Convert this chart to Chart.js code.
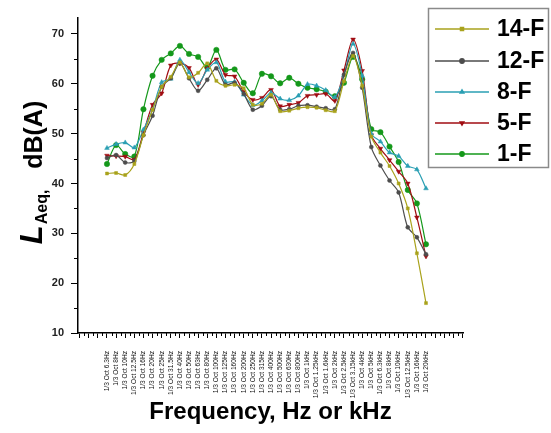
<!DOCTYPE html>
<html><head><meta charset="utf-8">
<script src="https://cdn.jsdelivr.net/npm/chart.js@4.4.0/dist/chart.umd.min.js"></script>
<style>html,body{margin:0;padding:0;background:#fff;}canvas{display:block;}</style>
</head><body>
<canvas id="c" width="551" height="433"></canvas>
<script>
const categories = ['1/3 Oct 6.3Hz','1/3 Oct 8Hz','1/3 Oct 10Hz','1/3 Oct 12.5Hz','1/3 Oct 16Hz','1/3 Oct 20Hz','1/3 Oct 25Hz','1/3 Oct 31.5Hz','1/3 Oct 40Hz','1/3 Oct 50Hz','1/3 Oct 63Hz','1/3 Oct 80Hz','1/3 Oct 100Hz','1/3 Oct 125Hz','1/3 Oct 160Hz','1/3 Oct 200Hz','1/3 Oct 250Hz','1/3 Oct 315Hz','1/3 Oct 400Hz','1/3 Oct 500Hz','1/3 Oct 630Hz','1/3 Oct 800Hz','1/3 Oct 1kHz','1/3 Oct 1.25kHz','1/3 Oct 1.6kHz','1/3 Oct 2kHz','1/3 Oct 2.5kHz','1/3 Oct 3.15kHz','1/3 Oct 4kHz','1/3 Oct 5kHz','1/3 Oct 6.3kHz','1/3 Oct 8kHz','1/3 Oct 10kHz','1/3 Oct 12.5kHz','1/3 Oct 16kHz','1/3 Oct 20kHz'];

const series14F = [42.0,42.1,41.7,43.9,49.7,54.8,59.4,61.4,64.3,61.3,62.2,64.1,60.6,59.6,59.8,59.1,55.8,56.0,57.8,54.5,54.6,55.1,55.3,55.2,54.7,54.5,60.5,65.6,59.6,49.4,46.2,43.5,40.0,35.0,26.0,16.0];
const series12F = [45.1,45.7,44.2,44.5,49.7,53.6,59.4,61.1,64.1,61.1,58.6,60.8,63.1,59.8,60.2,58.0,54.8,55.6,57.5,54.8,54.9,55.6,55.7,55.4,55.1,54.9,61.8,66.2,59.2,47.3,43.6,40.6,38.2,31.2,29.2,25.8];
const series8F  = [47.1,47.9,48.2,47.2,50.8,54.8,60.3,61.0,64.8,62.3,60.1,62.8,64.3,60.4,60.4,57.8,55.7,56.6,58.2,57.0,56.7,57.6,59.9,59.6,58.7,57.3,61.7,68.0,61.6,50.0,48.4,46.2,45.5,43.5,42.8,39.0];
const series5F  = [45.6,45.5,45.4,44.8,50.2,55.8,58.1,63.7,64.1,63.2,59.8,63.1,64.9,61.8,61.5,58.4,56.8,57.2,58.8,55.5,55.8,56.2,57.6,57.8,58.0,56.6,62.7,68.9,62.6,49.7,47.0,44.7,42.4,40.0,33.2,25.4];
const series1F  = [43.9,47.7,45.9,45.4,54.9,61.6,64.8,66.1,67.6,66.0,65.4,63.3,66.8,62.8,62.9,60.2,58.1,62.0,61.5,60.1,61.2,60.0,59.2,58.9,58.4,57.5,60.2,65.4,60.9,50.9,50.3,47.4,44.3,38.7,36.0,27.8];

const seriesNames = ['14-F','12-F','8-F','5-F','1-F'];
const yTickValues = [10,20,30,40,50,60,70];
const yMinorValues = [15,25,35,45,55,65];

const seriesList = [series14F, series12F, series8F, series5F, series1F];
const styles = [
  {color:'#a9a21c', pointStyle:'rect', radius:2.1, rotation:0},
  {color:'#4d4d4d', pointStyle:'circle', radius:2.0, rotation:0},
  {color:'#2a9fb3', pointStyle:'triangle', radius:2.7, rotation:0},
  {color:'#a00c12', pointStyle:'triangle', radius:2.7, rotation:180},
  {color:'#14981a', pointStyle:'circle', radius:2.7, rotation:0}
];

const datasets = seriesList.map((vals, k) => ({
  label: seriesNames[k],
  data: vals.map((v, i) => ({x: i, y: v})),
  borderColor: styles[k].color,
  backgroundColor: styles[k].color,
  pointBackgroundColor: styles[k].color,
  pointBorderColor: styles[k].color,
  pointStyle: styles[k].pointStyle,
  pointRadius: styles[k].radius,
  pointRotation: styles[k].rotation,
  pointBorderWidth: 0.5,
  borderWidth: 1.2,
  tension: 0.3,
  fill: false
}));

const extras = {
  id: 'extras',
  afterDraw(chart) {
    const ctx = chart.ctx;
    const xs = chart.scales.x, ys = chart.scales.y;
    const ca = chart.chartArea;
    ctx.save();
    ctx.strokeStyle = '#000';
    ctx.lineWidth = 1;
    for (let v = -2.5; v <= 39; v += 1) {
      const px = Math.round(xs.getPixelForValue(v)) + 0.5;
      ctx.beginPath(); ctx.moveTo(px, ca.bottom); ctx.lineTo(px, ca.bottom + 3); ctx.stroke();
    }
    yMinorValues.forEach(v => {
      const py = Math.round(ys.getPixelForValue(v)) + 0.5;
      ctx.beginPath(); ctx.moveTo(ca.left, py); ctx.lineTo(ca.left - 4, py); ctx.stroke();
    });
    // y title
    ctx.translate(42, 173);
    ctx.rotate(-Math.PI / 2);
    ctx.fillStyle = '#000';
    ctx.textBaseline = 'alphabetic';
    const f1 = 'italic bold 31px Arial, "Liberation Sans", sans-serif';
    const f2 = 'bold 16px Arial, "Liberation Sans", sans-serif';
    const f3 = 'bold 25px Arial, "Liberation Sans", sans-serif';
    const p1 = 'L', p2 = 'Aeq,', p3 = '   dB(A)';
    ctx.font = f1; const w1 = ctx.measureText(p1).width;
    ctx.font = f2; const w2 = ctx.measureText(p2).width;
    ctx.font = f3; const w3 = ctx.measureText(p3).width;
    let x0 = -(w1 + w2 + w3) / 2;
    ctx.font = f1; ctx.fillText(p1, x0, 0); x0 += w1 + 1;
    ctx.font = f2; ctx.fillText(p2, x0, 5); x0 += w2;
    ctx.font = f3; ctx.fillText(p3, x0, 0);
    ctx.restore();

    // legend
    ctx.save();
    ctx.fillStyle = '#fff';
    ctx.fillRect(428, 8, 121, 160);
    ctx.strokeStyle = '#8a8a8a';
    ctx.lineWidth = 1.5;
    ctx.strokeRect(428.5, 8.5, 120, 159);
    const rows = [29, 61, 92, 123, 154];
    chart.data.datasets.forEach((ds, k) => {
      const y = rows[k];
      ctx.strokeStyle = ds.borderColor;
      ctx.lineWidth = 1.4;
      ctx.beginPath(); ctx.moveTo(435, y); ctx.lineTo(489, y); ctx.stroke();
      ctx.fillStyle = ds.borderColor;
      ctx.strokeStyle = ds.borderColor;
      Chart.helpers.drawPoint(ctx, {pointStyle: ds.pointStyle, radius: 2.2, rotation: ds.pointRotation, borderWidth: 0.5}, 462, y);
      ctx.fillStyle = '#000';
      ctx.font = 'bold 23px Arial, "Liberation Sans", sans-serif';
      ctx.textBaseline = 'middle';
      ctx.textAlign = 'left';
      ctx.fillText(ds.label, 497, y + 1);
    });
    ctx.restore();
  }
};

new Chart(document.getElementById('c'), {
  type: 'line',
  data: { datasets },
  options: {
    responsive: false,
    animation: false,
    devicePixelRatio: 1,
    layout: { padding: { top: 18, right: 88, bottom: 0, left: 0 } },
    plugins: { legend: { display: false }, tooltip: { enabled: false } },
    scales: {
      x: {
        type: 'linear',
        min: -3.18, max: 39.06,
        afterFit: s => { s.height = 100; },
        afterBuildTicks: s => { const t = []; for (let v = -3; v <= 39; v++) t.push({value: v}); s.ticks = t; },
        grid: { display: true, drawOnChartArea: false, drawTicks: true, tickLength: 5, tickColor: '#000', tickWidth: 1 },
        border: { display: true, color: '#000', width: 1.5 },
        ticks: {
          autoSkip: false, minRotation: 90, maxRotation: 90, padding: 13,
          color: '#111', font: { size: 6.6, family: 'Arial, "Liberation Sans", sans-serif' },
          callback: v => (Number.isInteger(v) && v >= 0 && v < categories.length) ? categories[v] : ''
        },
        title: { display: true, text: 'Frequency, Hz or kHz', color: '#000',
          font: { size: 24, weight: 'bold', family: 'Arial, "Liberation Sans", sans-serif' },
          padding: { top: 0, bottom: 6 } }
      },
      y: {
        type: 'linear',
        min: 10, max: 73.2,
        afterFit: s => { s.width = 78; },
        afterBuildTicks: s => { s.ticks = yTickValues.map(v => ({value: v})); },
        grid: { display: true, drawOnChartArea: false, drawTicks: true, tickLength: 7, tickColor: '#000', tickWidth: 1 },
        border: { display: true, color: '#000', width: 1.5 },
        ticks: { padding: 7, color: '#222', font: { size: 11, weight: 'bold', family: 'Arial, "Liberation Sans", sans-serif' } }
      }
    }
  },
  plugins: [extras]
});
</script>
</body></html>
